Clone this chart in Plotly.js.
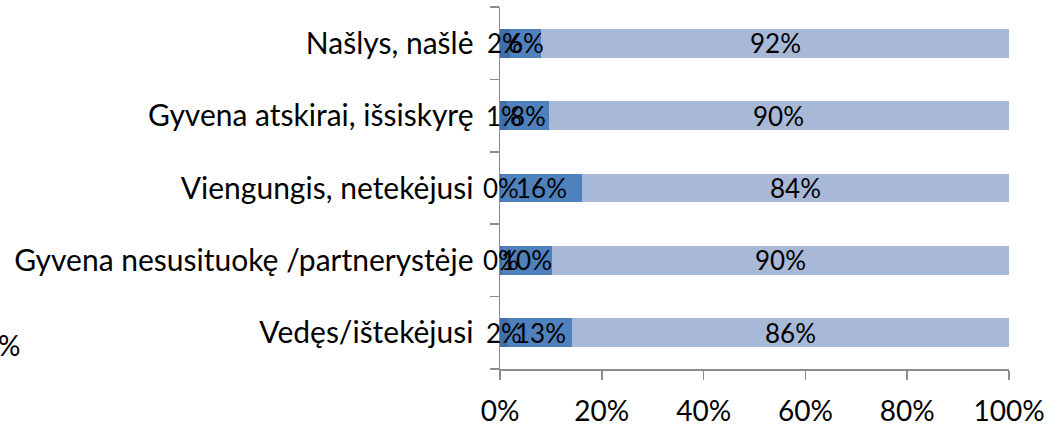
<!DOCTYPE html>
<html>
<head>
<meta charset="utf-8">
<script src="https://cdn.plot.ly/plotly-3.0.1.min.js"></script>
<style>
  html, body { margin: 0; padding: 0; background: #fff; }
  #chart { width: 1063px; height: 425px; }
</style>
</head>
<body>
<div id="chart"></div>
<script>
// Categories, bottom to top
const categories = [
  "Vedęs/ištekėjusi",
  "Gyvena nesusituokę /partnerystėje",
  "Viengungis, netekėjusi",
  "Gyvena atskirai, išsiskyrę",
  "Našlys, našlė"
];
// Estimated shares (%) per segment
const seriesA = [1.6, 0.3, 0.2, 1.4, 2.0];
const seriesB = [12.6, 9.9, 15.9, 8.2, 6.1];
const seriesC = [85.8, 89.8, 83.9, 90.4, 91.9];
const xTickVals = [0, 20, 40, 60, 80, 100];
const xTickText = ["0%", "20%", "40%", "60%", "80%", "100%"];

const FONT = "Lato, 'Open Sans', sans-serif";
const colors = ["#3f6fa8", "#4f81bd", "#a8b9d8"];
const series = [seriesA, seriesB, seriesC];

const data = series.map(function (vals, i) {
  return {
    type: "bar",
    orientation: "h",
    y: categories,
    x: vals,
    marker: { color: colors[i], line: { width: 0 } },
    hoverinfo: "skip"
  };
});

// Value labels on top of all bars, centred in each segment
const annotations = [];
series.forEach(function (vals, i) {
  vals.forEach(function (v, k) {
    let base = 0;
    for (let j = 0; j < i; j++) base += series[j][k];
    annotations.push({
      xref: "x", yref: "y",
      x: base + v / 2, y: categories[k],
      text: Math.round(v) + "%",
      showarrow: false,
      xanchor: "center", yanchor: "middle",
      font: { family: FONT, size: 26, color: "#000" }
    });
  });
});
annotations.push({
  xref: "paper", yref: "paper",
  x: -0.99, y: 0.066,
  xanchor: "left", yanchor: "middle",
  text: "%", showarrow: false,
  font: { family: FONT, size: 28, color: "#000" }
});

const layout = {
  width: 1063,
  height: 425,
  margin: { l: 500, r: 54, t: 7, b: 56 },
  barmode: "stack",
  bargap: 0.6,
  showlegend: false,
  paper_bgcolor: "#ffffff",
  plot_bgcolor: "rgba(0,0,0,0)",
  font: { family: FONT, size: 26, color: "#000" },
  xaxis: {
    range: [0, 100],
    tickvals: xTickVals,
    ticktext: xTickText,
    showgrid: false,
    zeroline: false,
    showline: true,
    linecolor: "#8c8c8c",
    linewidth: 1.5,
    ticks: "outside",
    ticklen: 9,
    tickcolor: "#8c8c8c",
    tickwidth: 1.5,
    ticklabelstandoff: 8,
    tickfont: { family: FONT, size: 28, color: "#000" },
    fixedrange: true
  },
  yaxis: {
    type: "category",
    showgrid: false,
    zeroline: false,
    showline: true,
    linecolor: "#8c8c8c",
    linewidth: 1.5,
    ticks: "outside",
    tickson: "boundaries",
    ticklen: 9,
    tickcolor: "#8c8c8c",
    tickwidth: 1.5,
    ticklabelstandoff: 19,
    tickfont: { family: FONT, size: 30, color: "#000" },
    fixedrange: true
  },
  annotations: annotations
};

Plotly.newPlot("chart", data, layout, { displayModeBar: false, staticPlot: true });
</script>
</body>
</html>
